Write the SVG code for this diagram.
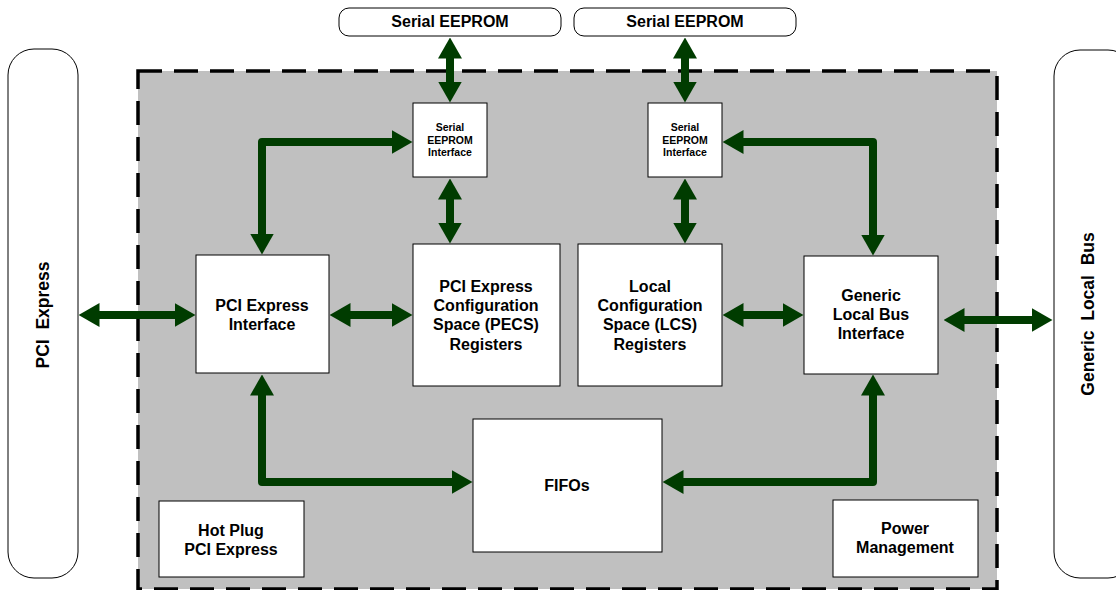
<svg xmlns="http://www.w3.org/2000/svg" width="1116" height="590" viewBox="0 0 1116 590">
<style>
text{font-family:"Liberation Sans",Arial,sans-serif;font-weight:bold;fill:#000;text-anchor:middle}
.t{font-size:16px}
.s{font-size:10.5px}
.p{font-size:16px}
.v{font-size:17.5px;white-space:pre}
.box{fill:#fff;stroke:#000;stroke-width:1}
.pill{fill:#fff;stroke:#000;stroke-width:1}
.ar{fill:none;stroke:#003c00;stroke-width:8;stroke-linejoin:round;marker-start:url(#ah);marker-end:url(#ah)}
</style>
<defs>
<marker id="ah" markerUnits="userSpaceOnUse" viewBox="0 -12 21 24" refX="0.5" refY="0" markerWidth="21" markerHeight="24" orient="auto-start-reverse">
<path d="M0,-12 L21,0 L0,12 Z" fill="#003c00"/>
</marker>
</defs>
<rect width="1116" height="590" fill="#fff"/>
<g id="chip">
<rect x="138" y="71" width="859" height="518" fill="#c0c0c0" stroke="#000" stroke-width="3.5" stroke-dasharray="24 12"/>
</g>
<g id="pcie-bus"><rect class="pill" x="8" y="49" width="70" height="529" rx="26"/>
<text class="v" transform="translate(49,315) rotate(-90)">PCI  Express</text></g>
<g id="local-bus"><rect class="pill" x="1054" y="50" width="80" height="528" rx="26"/>
<text class="v" transform="translate(1094,314) rotate(-90)">Generic  Local  Bus</text></g>
<g id="eeprom1"><rect class="pill" x="339" y="8" width="222" height="28" rx="10"/><text class="p" x="450" y="27">Serial EEPROM</text></g>
<g id="eeprom2"><rect class="pill" x="574" y="8" width="222" height="28" rx="10"/><text class="p" x="685" y="27">Serial EEPROM</text></g>
<g id="sei1"><rect class="box" x="413" y="103" width="74" height="74"/>
<text class="s" x="450" y="131">Serial</text><text class="s" x="450" y="143.5">EEPROM</text><text class="s" x="450" y="156">Interface</text></g>
<g id="sei2"><rect class="box" x="648" y="103" width="74" height="74"/>
<text class="s" x="685" y="131">Serial</text><text class="s" x="685" y="143.5">EEPROM</text><text class="s" x="685" y="156">Interface</text></g>
<g id="pcie-if"><rect class="box" x="196" y="255" width="133" height="118"/>
<text class="t" x="262" y="311">PCI Express</text><text class="t" x="262" y="330">Interface</text></g>
<g id="pecs"><rect class="box" x="413" y="244" width="147" height="142"/>
<text class="t" x="486" y="292">PCI Express</text><text class="t" x="486" y="311">Configuration</text><text class="t" x="486" y="330">Space (PECS)</text><text class="t" x="486" y="350">Registers</text></g>
<g id="lcs"><rect class="box" x="578" y="244" width="144" height="142"/>
<text class="t" x="650" y="292">Local</text><text class="t" x="650" y="311">Configuration</text><text class="t" x="650" y="330">Space (LCS)</text><text class="t" x="650" y="350">Registers</text></g>
<g id="glbi"><rect class="box" x="804" y="256" width="134" height="118"/>
<text class="t" x="871" y="301">Generic</text><text class="t" x="871" y="320">Local Bus</text><text class="t" x="871" y="339">Interface</text></g>
<g id="fifos"><rect class="box" x="473" y="419" width="189" height="133"/>
<text class="t" x="567" y="491">FIFOs</text></g>
<g id="hotplug"><rect class="box" x="159" y="501" width="145" height="76"/>
<text class="t" x="231" y="536">Hot Plug</text><text class="t" x="231" y="555">PCI Express</text></g>
<g id="power"><rect class="box" x="833" y="500" width="145" height="77"/>
<text class="t" x="905" y="534">Power</text><text class="t" x="905" y="553">Management</text></g>
<g id="connectors">
<path class="ar" d="M99,315 H175"/>
<path class="ar" d="M350,315 H392"/>
<path class="ar" d="M743,315 H783"/>
<path class="ar" d="M964,320 H1032"/>
<path class="ar" d="M450,58 V82"/>
<path class="ar" d="M685,58 V82"/>
<path class="ar" d="M450,199 V223"/>
<path class="ar" d="M685,199 V223"/>
<path class="ar" d="M262,234 V142 H392"/>
<path class="ar" d="M873,235 V142 H743"/>
<path class="ar" d="M262,395 V482 H452"/>
<path class="ar" d="M873,395 V482 H683"/>
</g>
</svg>
